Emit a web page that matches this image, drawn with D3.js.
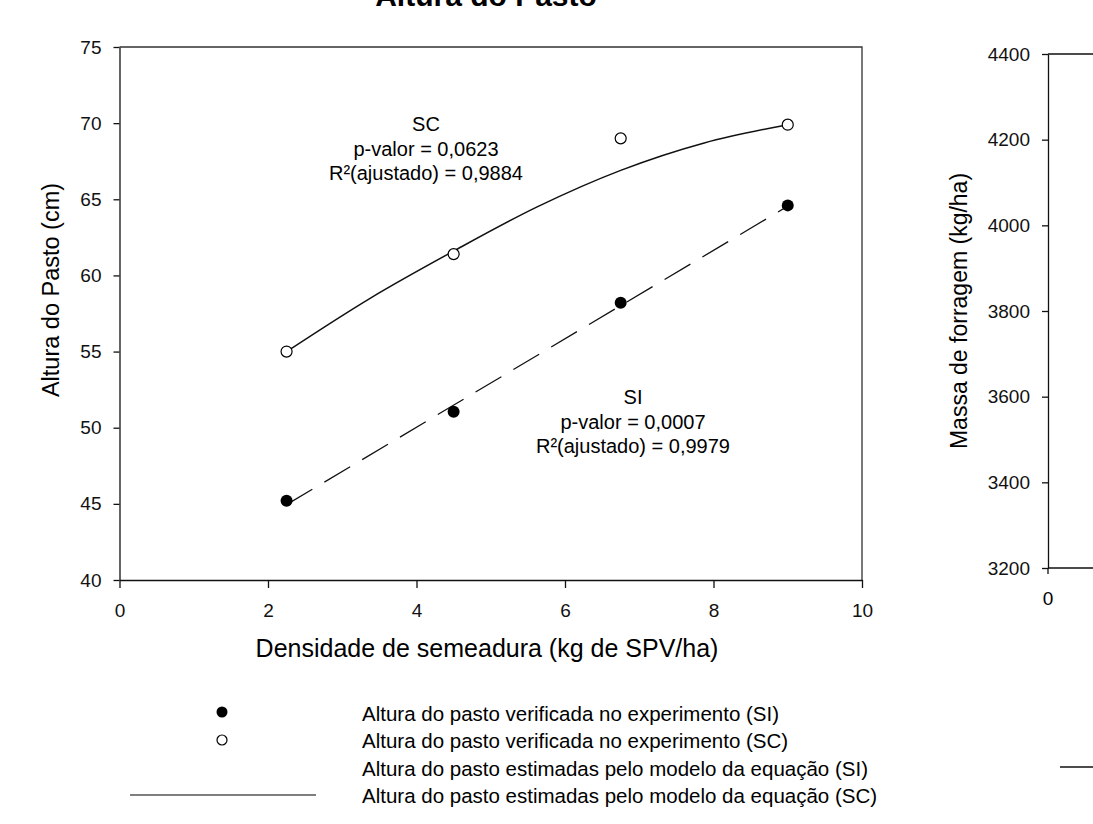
<!DOCTYPE html>
<html>
<head>
<meta charset="utf-8">
<script src="https://cdn.jsdelivr.net/npm/d3@7"></script>
<style>
  body { margin: 0; background: #fff; }
  svg { display: block; font-family: "Liberation Sans", Arial, sans-serif; }
</style>
</head>
<body>
<script>
// observed data (kg SPV/ha vs altura cm)
let densidade = [2.25, 4.5, 6.75, 9];
let alturaSI = [45.2, 51.05, 58.2, 64.6];
let alturaSC = [55.0, 61.4, 69.0, 69.9];

// fitted model values
let ajusteSI_x = [2.25, 9];
let ajusteSI_y = [44.95, 64.55];
let ajusteSC_x = [2.25, 3.375, 4.5, 5.625, 6.75, 7.875, 9];
let ajusteSC_y = [55.0, 58.5, 61.6, 64.5, 66.9, 68.7, 69.9];

let yTicks = [40, 45, 50, 55, 60, 65, 70, 75];
let xTicks = [0, 2, 4, 6, 8, 10];
let massaTicks = [3200, 3400, 3600, 3800, 4000, 4200, 4400];

let legendLabels = [
  'Altura do pasto verificada no experimento (SI)',
  'Altura do pasto verificada no experimento (SC)',
  'Altura do pasto estimadas pelo modelo da equação (SI)',
  'Altura do pasto estimadas pelo modelo da equação (SC)'
];

let width = 1093, height = 824;
let margin = { top: 47, bottom: 244, left: 119.5, right: 231 };

let svg = d3.select('body')
  .append('svg')
  .attr('width', width)
  .attr('height', height);

// title (cut off at top in the original)
svg.append('text')
  .attr('x', 486)
  .attr('y', 6)
  .attr('text-anchor', 'middle')
  .style('font-size', '30px')
  .style('font-weight', 'bold')
  .text('Altura do Pasto');

let xScale = d3.scaleLinear()
  .domain([0, 10])
  .range([margin.left, width - margin.right]);

let yScale = d3.scaleLinear()
  .domain([40, 75])
  .range([height - margin.bottom, margin.top]);

// frame top + right
svg.append('path')
  .attr('d', `M${xScale(0)},${yScale(75)}H${xScale(10)}V${yScale(40)}`)
  .attr('fill', 'none')
  .attr('stroke', '#333')
  .attr('stroke-width', 1.3);

let yAxis = svg.append('g')
  .attr('transform', `translate(${margin.left},0)`)
  .call(d3.axisLeft(yScale).tickValues(yTicks).tickSize(6).tickSizeOuter(0).tickPadding(12));

let xAxis = svg.append('g')
  .attr('transform', `translate(0,${height - margin.bottom})`)
  .call(d3.axisBottom(xScale).tickValues(xTicks).tickSize(8).tickSizeOuter(0).tickPadding(16));

svg.selectAll('.domain, .tick line').attr('stroke', '#111').attr('stroke-width', 1.3);
svg.selectAll('.tick text').style('font-size', '19px').attr('fill', '#111')
  .style('font-family', '"Liberation Sans", Arial, sans-serif');

svg.append('text')
  .attr('x', 487)
  .attr('y', 657)
  .attr('text-anchor', 'middle')
  .style('font-size', '25px')
  .text('Densidade de semeadura (kg de SPV/ha)');

svg.append('text')
  .attr('transform', 'translate(59,290) rotate(-90)')
  .attr('text-anchor', 'middle')
  .style('font-size', '23.5px')
  .text('Altura do Pasto (cm)');

// fitted lines
let line = d3.line()
  .x(d => xScale(d[0]))
  .y(d => yScale(d[1]));

svg.append('path')
  .datum(d3.zip(ajusteSI_x, ajusteSI_y))
  .attr('d', line)
  .attr('fill', 'none')
  .attr('stroke', '#111')
  .attr('stroke-width', 1.3)
  .attr('stroke-dasharray', '30,14');

svg.append('path')
  .datum(d3.zip(ajusteSC_x, ajusteSC_y))
  .attr('d', line.curve(d3.curveMonotoneX))
  .attr('fill', 'none')
  .attr('stroke', '#111')
  .attr('stroke-width', 1.5);

// points
svg.selectAll('.si')
  .data(d3.zip(densidade, alturaSI))
  .enter()
  .append('circle')
  .attr('cx', d => xScale(d[0]))
  .attr('cy', d => yScale(d[1]))
  .attr('r', 6)
  .attr('fill', '#000');

svg.selectAll('.sc')
  .data(d3.zip(densidade, alturaSC))
  .enter()
  .append('circle')
  .attr('cx', d => xScale(d[0]))
  .attr('cy', d => yScale(d[1]))
  .attr('r', 5.5)
  .attr('fill', '#fff')
  .attr('stroke', '#000')
  .attr('stroke-width', 1.2);

// annotations
let notes = [
  { x: 426, y: 131, lines: ['SC', 'p-valor = 0,0623', 'R²(ajustado) = 0,9884'] },
  { x: 633, y: 404, lines: ['SI', 'p-valor = 0,0007', 'R²(ajustado) = 0,9979'] }
];
notes.forEach(n => {
  svg.append('text')
    .attr('text-anchor', 'middle')
    .style('font-size', '20px')
    .selectAll('tspan')
    .data(n.lines)
    .enter()
    .append('tspan')
    .attr('x', n.x)
    .attr('y', (d, i) => n.y + i * 24.5)
    .text(d => d);
});

// legend
let legY = [714, 741, 769, 796];
let leg = svg.append('g');
leg.append('circle').attr('cx', 222).attr('cy', legY[0] - 2).attr('r', 5.5).attr('fill', '#000');
leg.append('circle').attr('cx', 222).attr('cy', legY[1] - 1).attr('r', 5).attr('fill', '#fff')
  .attr('stroke', '#000').attr('stroke-width', 1.2);
leg.append('line').attr('x1', 130).attr('x2', 316).attr('y1', legY[3] - 1).attr('y2', legY[3] - 1)
  .attr('stroke', '#555').attr('stroke-width', 1.5);
leg.selectAll('text')
  .data(legendLabels)
  .enter()
  .append('text')
  .attr('x', 362)
  .attr('y', (d, i) => legY[i] + 7)
  .style('font-size', '20.5px')
  .text(d => d);

// second panel (cut off at right edge)
let massaScale = d3.scaleLinear()
  .domain([3200, 4400])
  .range([568, 54]);
let x2 = 1048;

svg.append('g')
  .attr('transform', `translate(${x2},0)`)
  .call(d3.axisLeft(massaScale).tickValues(massaTicks).tickFormat(d3.format('d'))
    .tickSize(6).tickSizeOuter(0).tickPadding(12))
  .call(g => g.selectAll('.domain, .tick line').attr('stroke', '#111').attr('stroke-width', 1.3))
  .call(g => g.selectAll('.tick text').style('font-size', '19px').attr('fill', '#111')
    .style('font-family', '"Liberation Sans", Arial, sans-serif'));

svg.append('path')
  .attr('d', `M${x2},${massaScale(4400)}H${width}M${x2},${massaScale(3200)}H${width}M${x2},${massaScale(3200)}V${massaScale(3200) + 6}`)
  .attr('stroke', '#111')
  .attr('stroke-width', 1.3);

svg.append('text')
  .attr('x', x2)
  .attr('y', 605)
  .attr('text-anchor', 'middle')
  .style('font-size', '19px')
  .text('0');

svg.append('text')
  .attr('transform', 'translate(967,311) rotate(-90)')
  .attr('text-anchor', 'middle')
  .style('font-size', '23px')
  .text('Massa de forragem (kg/ha)');

svg.append('line')
  .attr('x1', 1060).attr('x2', width).attr('y1', 767).attr('y2', 767)
  .attr('stroke', '#111').attr('stroke-width', 1.5);
</script>
</body>
</html>
